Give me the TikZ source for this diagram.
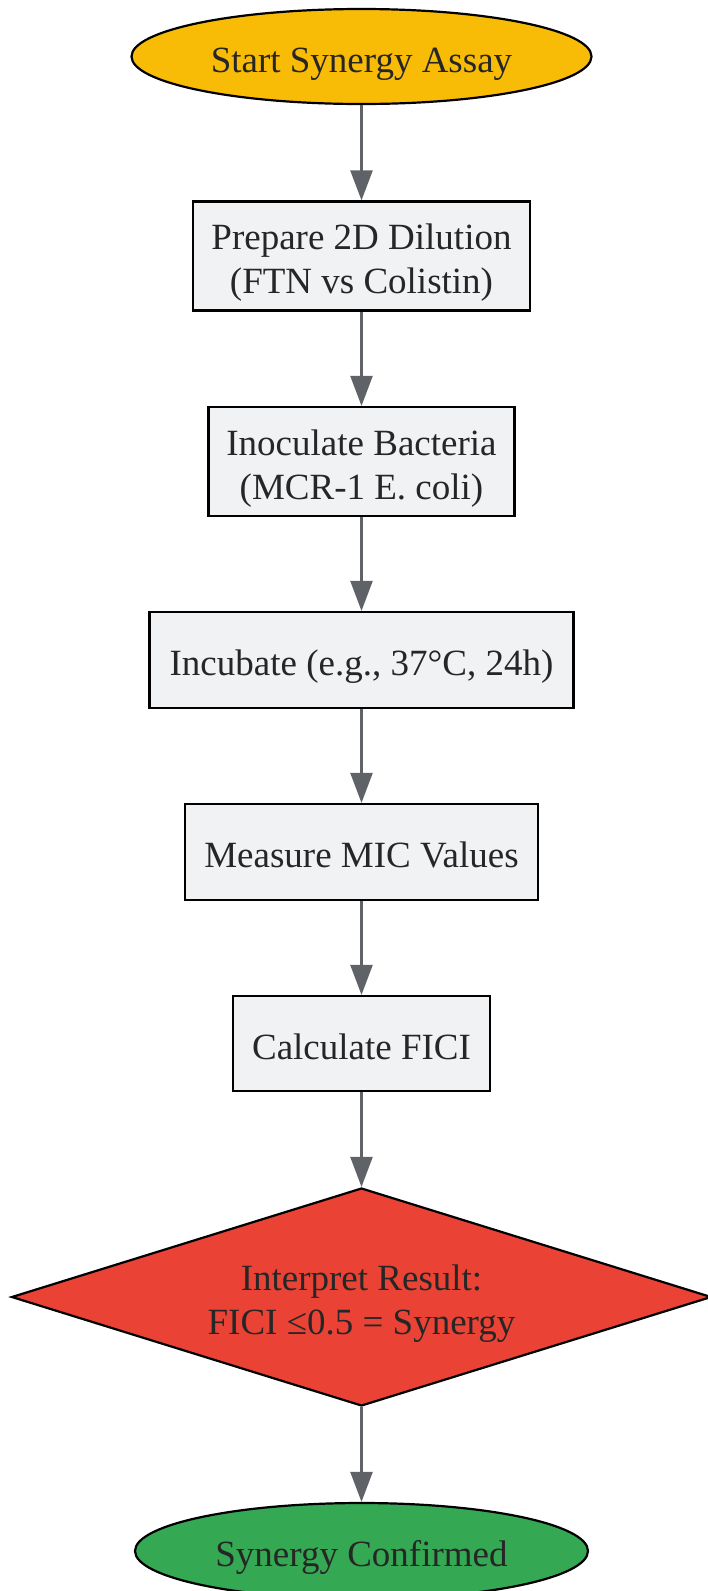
\documentclass[tikz,border=0pt]{standalone}
\usepackage{fontspec}
\setmainfont{Liberation Serif}
\usetikzlibrary{shapes.geometric,arrows.meta}
\definecolor{txt}{HTML}{262626}
\definecolor{boxfill}{HTML}{F1F2F4}
\definecolor{startfill}{HTML}{F9BC06}
\definecolor{endfill}{HTML}{34A853}
\definecolor{decfill}{HTML}{EA4335}
\definecolor{arrowc}{HTML}{5F6368}
\newcommand{\topstrut}{\rule{0pt}{39.5pt}}
\newcommand{\botstrut}{\rule[-8.5pt]{0pt}{8.5pt}}
\begin{document}
\begin{tikzpicture}[x=1pt,y=-1pt,
  font=\fontsize{37}{44}\selectfont,
  base/.style={draw=black, line width=2.2pt, text=txt, align=center, inner sep=0pt},
  procbox/.style={base, rectangle, fill=boxfill},
  termnode/.style={base, ellipse},
  decnode/.style={base, diamond, fill=decfill, shape aspect=3.2},
  arr/.style={draw=arrowc, line width=2.4pt, -{Triangle[length=30pt,width=22pt]}}
]
\useasboundingbox (0,0) rectangle (708,1591);
\node[termnode, fill=startfill, minimum width=460pt, minimum height=95pt] (start) at (361.5,56.5) {\topstrut Start Synergy Assay\botstrut};
\node[procbox, minimum width=337pt, minimum height=109pt] (p1) at (361.5,256) {\topstrut Prepare 2D Dilution\\(FTN vs Colistin)\botstrut};
\node[procbox, minimum width=306pt, minimum height=109pt] (p2) at (361.5,461.5) {\topstrut Inoculate Bacteria\\(MCR-1 E. coli)\botstrut};
\node[procbox, minimum width=424pt, minimum height=96pt] (p3) at (361.5,660) {\topstrut Incubate (e.g., 37°C, 24h)\botstrut};
\node[procbox, minimum width=353pt, minimum height=96pt] (p4) at (361.5,852) {\topstrut Measure MIC Values\botstrut};
\node[procbox, minimum width=257pt, minimum height=95pt] (p5) at (361.5,1043.5) {\topstrut Calculate FICI\botstrut};
\node[decnode, minimum width=700pt, minimum height=218pt] (dec) at (361.5,1297) {\topstrut Interpret Result:\\FICI ≤0.5 = Synergy\botstrut};
\node[termnode, fill=endfill, minimum width=453pt, minimum height=96pt] (end) at (361.5,1551) {\topstrut Synergy Confirmed\botstrut};
\draw[arr] (start.south) -- (p1.north);
\draw[arr] (p1.south) -- (p2.north);
\draw[arr] (p2.south) -- (p3.north);
\draw[arr] (p3.south) -- (p4.north);
\draw[arr] (p4.south) -- (p5.north);
\draw[arr] (p5.south) -- (dec.north);
\draw[arr] (dec.south) -- (end.north);
\end{tikzpicture}
\end{document}
